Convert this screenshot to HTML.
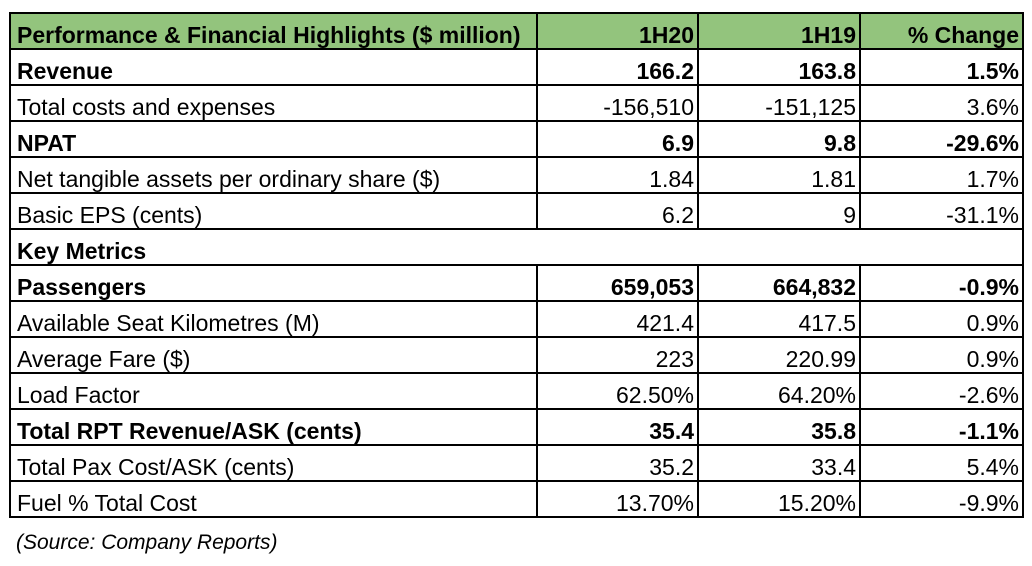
<!DOCTYPE html>
<html><head><style>
body{margin:0;width:1032px;height:566px;background:#fff;font-family:"Liberation Sans",Arial,sans-serif;position:relative;overflow:hidden}
table{position:absolute;left:9px;top:12px;border-collapse:collapse;table-layout:fixed}
td{border:2px solid #000;padding:0 3px 1px 6px;font-size:23px;line-height:23px;vertical-align:bottom;box-sizing:border-box;height:36px;white-space:nowrap;overflow:hidden;color:#000}
td.n{text-align:right;padding-right:3px}
tr.h td{background:#93c47d;font-weight:bold}
tr.b td{font-weight:bold}
.src{position:absolute;left:16px;top:531px;font-size:21px;font-style:italic}
</style></head><body>
<table>
<colgroup><col style="width:527px"><col style="width:161px"><col style="width:162px"><col style="width:163px"></colgroup>
<tr class="h"><td>Performance &amp; Financial Highlights ($ million)</td><td class="n">1H20</td><td class="n">1H19</td><td class="n">% Change</td></tr>
<tr class="b"><td>Revenue</td><td class="n">166.2</td><td class="n">163.8</td><td class="n">1.5%</td></tr>
<tr><td>Total costs and expenses</td><td class="n">-156,510</td><td class="n">-151,125</td><td class="n">3.6%</td></tr>
<tr class="b"><td>NPAT</td><td class="n">6.9</td><td class="n">9.8</td><td class="n">-29.6%</td></tr>
<tr><td>Net tangible assets per ordinary share ($)</td><td class="n">1.84</td><td class="n">1.81</td><td class="n">1.7%</td></tr>
<tr><td>Basic EPS (cents)</td><td class="n">6.2</td><td class="n">9</td><td class="n">-31.1%</td></tr>
<tr class="b"><td colspan="4">Key Metrics</td></tr>
<tr class="b"><td>Passengers</td><td class="n">659,053</td><td class="n">664,832</td><td class="n">-0.9%</td></tr>
<tr><td>Available Seat Kilometres (M)</td><td class="n">421.4</td><td class="n">417.5</td><td class="n">0.9%</td></tr>
<tr><td>Average Fare ($)</td><td class="n">223</td><td class="n">220.99</td><td class="n">0.9%</td></tr>
<tr><td>Load Factor</td><td class="n">62.50%</td><td class="n">64.20%</td><td class="n">-2.6%</td></tr>
<tr class="b"><td>Total RPT Revenue/ASK (cents)</td><td class="n">35.4</td><td class="n">35.8</td><td class="n">-1.1%</td></tr>
<tr><td>Total Pax Cost/ASK (cents)</td><td class="n">35.2</td><td class="n">33.4</td><td class="n">5.4%</td></tr>
<tr><td>Fuel % Total Cost</td><td class="n">13.70%</td><td class="n">15.20%</td><td class="n">-9.9%</td></tr>
</table>
<div class="src">(Source: Company Reports)</div>
</body></html>
